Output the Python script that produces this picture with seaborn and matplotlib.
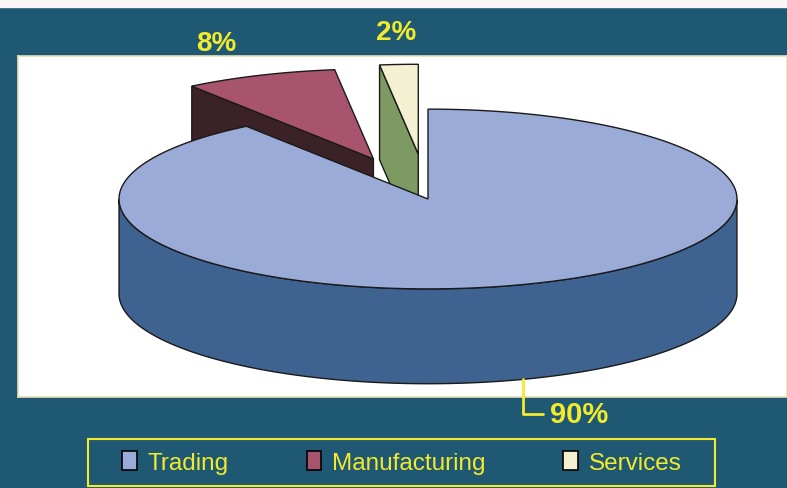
import numpy as np
import matplotlib.pyplot as plt
import seaborn as sns
from matplotlib.patches import Patch, Rectangle

# data
categories = ["Trading", "Manufacturing", "Services"]
shares = [90, 8, 2]
pct_labels = ["90%", "8%", "2%"]

# styling
top_colors = ["#9babd8", "#a9546f", "#f4f0d2"]
side_colors = ["#3e6390", "#3b2226", "#7d9a62"]
explode = [0.0, 0.48, 0.5]
bg = "#1f5873"
yellow = "#f3ea2c"
edge = "#1a1a1a"

sns.set_theme(style="white")
plt.rcParams["font.family"] = ["Liberation Sans", "DejaVu Sans"]

fig = plt.figure(figsize=(7.87, 4.89), dpi=100, facecolor=bg)
fig.patches.append(Rectangle((0, 1 - 8 / 489), 1, 8 / 489, transform=fig.transFigure,
                             color="#fbf6f6", zorder=0))

ax = fig.add_axes([18 / 787, 91 / 489, 769 / 787, 341 / 489])
ax.set_facecolor("white")
ax.set_xlim(-1.327, 1.162)
ax.set_ylim(-0.641, 0.463)
ax.set_xticks([])
ax.set_yticks([])
for s in ax.spines.values():
    s.set_color("#e6e2b0")
    s.set_linewidth(1.2)

tilt = 0.291   # vertical squash of the disc
depth = 0.307  # thickness of the disc

# slice angles: start at 12 o'clock, go clockwise
total = float(sum(shares))
cum = np.concatenate([[0], np.cumsum(shares)]) / total * 360
slices = []
for i in range(len(shares)):
    hi = np.radians(90 - cum[i])
    lo = np.radians(90 - cum[i + 1])
    mid = (hi + lo) / 2
    off = (explode[i] * np.cos(mid), explode[i] * tilt * np.sin(mid))
    slices.append((i, lo, hi, mid, off))


def rim(th, off, z=0.0):
    return off[0] + np.cos(th), off[1] + tilt * np.sin(th) - z


# draw back slices first
for i, lo, hi, mid, off in sorted(slices, key=lambda s: -s[4][1]):
    kw = dict(ec=edge, lw=1.0)
    # radial side faces
    for a, vis in [(hi, np.cos(hi) < -1e-6), (lo, np.cos(lo) > 1e-6)]:
        if vis:
            x1, y1 = rim(a, off)
            xs = [off[0], x1, x1, off[0]]
            ys = [off[1], y1, y1 - depth, off[1] - depth]
            ax.fill(xs, ys, fc=side_colors[i], **kw)
    # outer rim, front part only
    th = np.linspace(lo, hi, 600)
    front = np.sin(th) <= 0
    if front.any():
        idx = np.where(front)[0]
        runs = np.split(idx, np.where(np.diff(idx) > 1)[0] + 1)
        for r in runs:
            t = th[r]
            xt, yt = rim(t, off)
            xb, yb = rim(t[::-1], off, depth)
            ax.fill(np.r_[xt, xb], np.r_[yt, yb], fc=side_colors[i], **kw)
    # top face
    xt, yt = rim(th, off)
    ax.fill(np.r_[off[0], xt], np.r_[off[1], yt], fc=top_colors[i], **kw)

# percentage labels
for i, lo, hi, mid, off in slices:
    if i == 0:
        bx, by = rim(mid, off, depth)
        ax.annotate(pct_labels[i], xy=(bx, by), xytext=(0.395, -0.696),
                    ha="left", va="center", fontsize=21, fontweight="bold",
                    color=yellow, annotation_clip=False,
                    arrowprops=dict(arrowstyle="-", color=yellow, lw=2,
                                    shrinkA=3, shrinkB=0,
                                    connectionstyle="angle,angleA=0,angleB=90,rad=0"))
    else:
        r = 1.9
        ax.text(r * np.cos(mid) + 0.015, r * tilt * np.sin(mid) - 0.01, pct_labels[i],
                ha="center", va="center", fontsize=20, fontweight="bold",
                color=yellow, clip_on=False)

# legend with its own yellow frame
fig.patches.append(Rectangle((88 / 787, 2 / 489), 627 / 787, 47 / 489,
                             transform=fig.transFigure, fill=False, ec=yellow, lw=1.5))
handles = [Patch(fc=c, ec="black", lw=1.2) for c in top_colors]
fig.legend(handles, categories, loc="center",
           bbox_to_anchor=(402 / 787, 25.5 / 489), ncol=3, frameon=False,
           fontsize=17.5, labelcolor=yellow, handlelength=0.6, handleheight=0.8,
           handletextpad=0.45, columnspacing=3.2, borderaxespad=0, borderpad=0)

fig.savefig("out.png", dpi=100, facecolor=bg)
